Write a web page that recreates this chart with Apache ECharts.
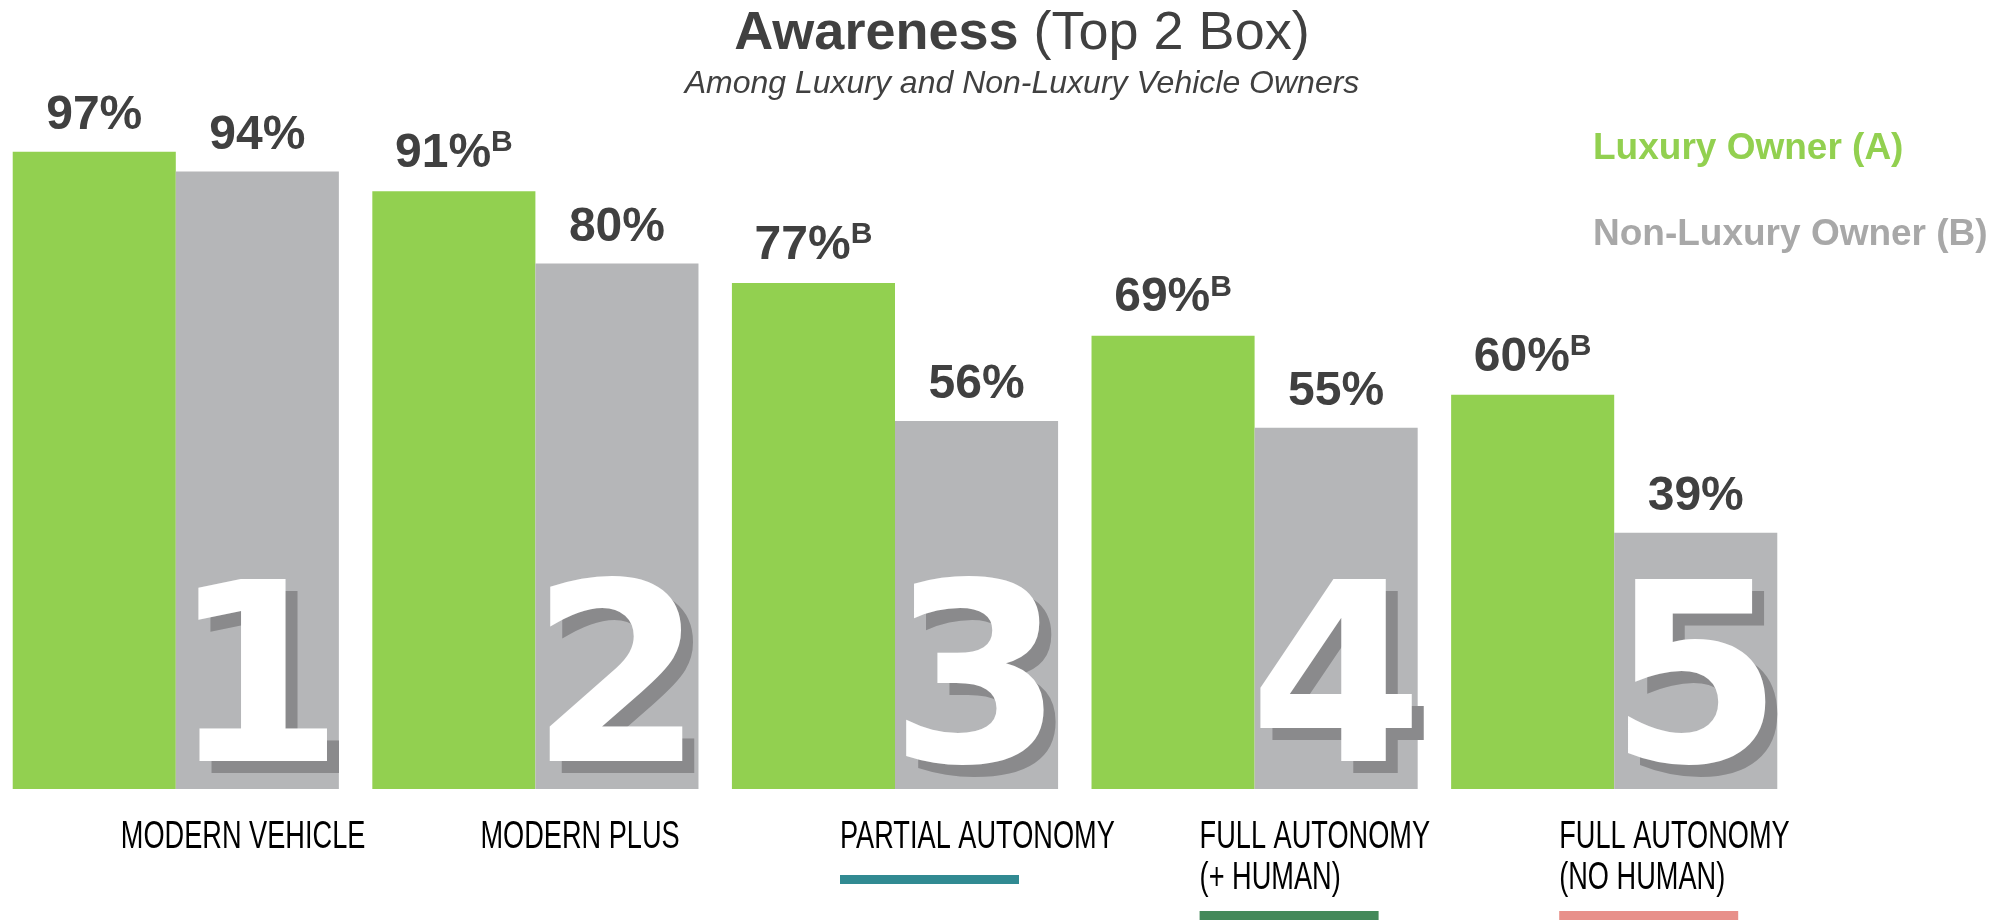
<!DOCTYPE html>
<html><head><meta charset="utf-8">
<script src="https://cdn.jsdelivr.net/npm/echarts@6/dist/echarts.min.js"></script>
<style>html,body{margin:0;padding:0;background:#fff}#c{width:2014px;height:921px}</style>
</head><body><div id="c"></div>
<script>
// ---- data ----
const categories = ['MODERN VEHICLE', 'MODERN PLUS', 'PARTIAL AUTONOMY', 'FULL AUTONOMY\n(+ HUMAN)', 'FULL AUTONOMY\n(NO HUMAN)'];
const stepNumbers = ['1', '2', '3', '4', '5'];
const luxuryValues = [97, 91, 77, 69, 60];
const nonLuxuryValues = [94, 80, 56, 55, 39];
const luxurySig = ['', 'B', 'B', 'B', 'B'];
const nonLuxurySig = ['', '', '', '', ''];
const seriesNames = ['Luxury Owner (A)', 'Non-Luxury Owner (B)'];
const titleMain = 'Awareness';
const titleParen = '(Top 2 Box)';
const subtitle = 'Among Luxury and Non-Luxury Vehicle Owners';

// ---- styles ----
const GREEN = '#92D050', GRAY = '#B5B6B8', DARK = '#404040';
const underlineColors = [null, null, '#318A92', '#44895A', '#E8908A'];
const CAT_GAP = 0.093;
const SANS = "'Liberation Sans', Arial, sans-serif";

function barLabel(sig) {
  return {
    show: true, position: 'top', distance: 12,
    formatter: p => '{v|' + p.value + '%}' + (sig[p.dataIndex] ? '{s|' + sig[p.dataIndex] + '}' : ''),
    rich: {
      v: { fontSize: 48, fontWeight: 'bold', color: DARK, fontFamily: SANS },
      s: { fontSize: 30, fontWeight: 'bold', color: DARK, fontFamily: SANS, padding: [0, 0, 21, 0] }
    }
  };
}

const chart = echarts.init(document.getElementById('c'), null, { renderer: 'canvas' });
chart.setOption({
  backgroundColor: '#fff',
  animation: false,
  title: {
    text: '{b|' + titleMain + '}{r| ' + titleParen + '}',
    subtext: subtitle,
    left: 1022, textAlign: 'center', top: 2, padding: [5, 0, 5, 0], itemGap: 7,
    textStyle: { rich: {
      b: { fontSize: 54, fontWeight: 'bold', color: DARK, fontFamily: SANS },
      r: { fontSize: 54, fontWeight: 'normal', color: DARK, fontFamily: SANS }
    } },
    subtextStyle: { fontSize: 32, fontStyle: 'italic', color: DARK, fontFamily: SANS }
  },
  legend: {
    orient: 'vertical', left: 1583, top: 125, icon: 'none', itemWidth: 0, itemHeight: 0,
    itemGap: 49, selectedMode: false,
    textStyle: { fontSize: 37, fontWeight: 'bold', fontFamily: SANS },
    data: [
      { name: seriesNames[0], textStyle: { color: GREEN } },
      { name: seriesNames[1], textStyle: { color: '#A8A8A8' } }
    ]
  },
  grid: { left: -4, right: 220, top: 132, bottom: 132, outerBoundsMode: 'none' },
  xAxis: {
    type: 'category', data: categories,
    axisLine: { show: false }, axisTick: { show: false }, splitLine: { show: false },
    axisLabel: { show: false }
  },
  yAxis: { type: 'value', min: 0, max: 100, show: false, splitLine: { show: false } },
  series: [
    { name: seriesNames[0], type: 'bar', data: luxuryValues, barGap: 0, barCategoryGap: (CAT_GAP * 100) + '%',
      itemStyle: { color: GREEN }, label: barLabel(luxurySig) },
    { name: seriesNames[1], type: 'bar', data: nonLuxuryValues, barGap: 0, barCategoryGap: (CAT_GAP * 100) + '%',
      itemStyle: { color: GRAY }, label: barLabel(nonLuxurySig) },
    { type: 'custom', silent: true, clip: false, z: 5,
      data: stepNumbers.map((s, i) => [i, 0]), encode: { x: 0, y: 1 },
      renderItem: (params, api) => {
        const i = api.value(0);
        const pt = api.coord([i, 0]);
        const band = api.size([1, 0])[0];
        const barW = band * (1 - CAT_GAP) / 2;
        const cx = pt[0] + barW / 2;
        const cy = pt[1] - 93;
        const digitStyle = { text: stepNumbers[i], fontSize: 250, fontWeight: 'bold', fontFamily: 'DejaVu Sans', align: 'center', verticalAlign: 'middle' };
        const children = [
          { type: 'text', x: cx + 12, y: cy + 12, style: Object.assign({ fill: '#8A8A8C' }, digitStyle) },
          { type: 'text', x: cx, y: cy, style: Object.assign({ fill: '#FFFFFF' }, digitStyle) }
        ];
        const lines = categories[i].split('\n');
        const labelX = pt[0] - 55;
        lines.forEach((ln, k) => {
          children.push({ type: 'text', x: labelX, y: pt[1] + 49 + k * 41, scaleX: 0.715,
            style: { text: ln, fontSize: 38, fontFamily: SANS, fill: '#000', align: 'left', verticalAlign: 'middle' } });
        });
        if (underlineColors[i]) {
          children.push({ type: 'rect', shape: { x: labelX, y: pt[1] + 50 + lines.length * 36, width: 179, height: 9 }, style: { fill: underlineColors[i] } });
        }
        return { type: 'group', children };
      }
    }
  ]
});
</script></body></html>
